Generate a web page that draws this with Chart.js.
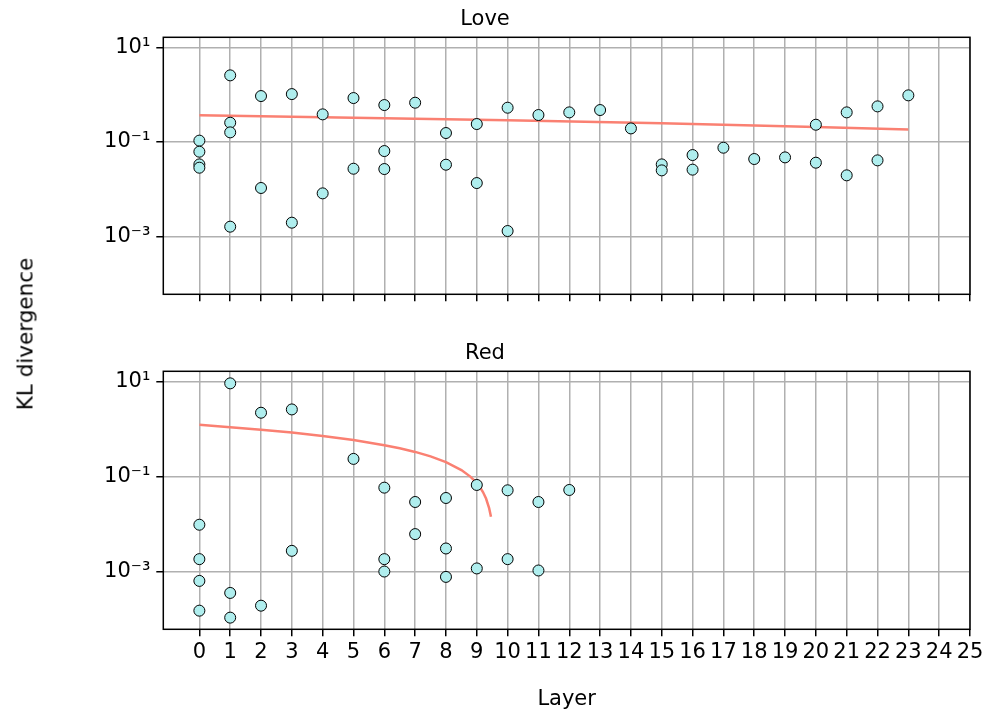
<!DOCTYPE html>
<html><head><meta charset="utf-8">
<script src="https://cdn.jsdelivr.net/npm/chart.js@4/dist/chart.umd.min.js"></script>
<style>
html,body{margin:0;padding:0;background:#fff;}
#wrap{position:relative;width:986px;height:720px;overflow:hidden;background:#fff;}
#c1{position:absolute;left:0;top:0;width:986px;height:334px;}
#c2{position:absolute;left:0;top:334px;width:986px;height:386px;}
#ylab{position:absolute;left:25px;top:334px;transform:translate(-50%,-50%) rotate(-90deg);font:21.5px "DejaVu Sans";white-space:nowrap;color:#000;}
</style></head>
<body><div id="wrap"><canvas id="c1" width="986" height="334"></canvas><canvas id="c2" width="986" height="386"></canvas><div id="ylab">KL divergence</div></div>
<script>
// ---- data ----
const xTickValues = [0,1,2,3,4,5,6,7,8,9,10,11,12,13,14,15,16,17,18,19,20,21,22,23,24,25];
const yTickValues = [1e-3, 1e-1, 1e1];
const yTickLabels = ['10\u207B\u00B3', '10\u207B\u00B9', '10\u00B9'];

const loveLayers = [0,0,0,0, 1,1,1,1, 2,2, 3,3, 4,4, 5,5, 6,6,6, 7, 8,8, 9,9, 10,10, 11, 12, 13, 14, 15,15, 16,16, 17, 18, 19, 20,20, 21,21, 22,22, 23];
const loveKL = [0.107,0.0625,0.0337,0.0287, 2.56,0.256,0.16,0.00163, 0.936,0.0107, 1.03,0.00198, 0.384,0.00824, 0.849,0.0273, 0.604,0.0645,0.0269, 0.677, 0.155,0.0332, 0.24,0.0136, 0.531,0.00132, 0.372, 0.423, 0.474, 0.194, 0.0337,0.0252, 0.0531,0.0261, 0.0759, 0.0438, 0.0474, 0.232,0.0366, 0.423,0.0198, 0.566,0.041, 0.968];
const loveFitX = [0, 5, 10, 15, 20, 23];
const loveFitY = [0.366, 0.327, 0.287, 0.248, 0.209, 0.185];

const redLayers = [0,0,0,0, 1,1,1, 2,2, 3,3, 5, 6,6,6, 7,7, 8,8,8, 9,9, 10,10, 11,11, 12];
const redKL = [0.00964,0.00182,0.000634,0.00015, 9.09,0.000354,0.000107, 2.19,0.000191, 2.57,0.00272, 0.234, 0.0581,0.00182,0.000998, 0.029,0.00612, 0.0352,0.00305,0.00077, 0.0662,0.00116, 0.0511,0.00182, 0.029,0.00105, 0.0519];
const redFitX = [0,1,2,3,4,5,6,6.5,7,7.5,8,8.5,8.8,9,9.1,9.2,9.3,9.4,9.46];
const redFitY = [1.22,1.09,0.965,0.838,0.71,0.583,0.455,0.391,0.328,0.264,0.2,0.136,0.098,0.0725,0.0598,0.047,0.0343,0.0215,0.0142];

// ---- chart construction ----
const FAM = '"DejaVu Sans", sans-serif';
const FS = 21;
const framePlugin = {
  id: 'frame',
  afterDraw(chart) {
    const {ctx, chartArea: a} = chart;
    ctx.save();
    ctx.strokeStyle = '#000';
    ctx.lineWidth = 1.5;
    ctx.strokeRect(a.left, a.top, a.right - a.left, a.bottom - a.top);
    ctx.restore();
  }
};
function pts(xs, ys) { return xs.map((x, i) => ({x: x, y: ys[i]})); }

function makeChart(id, title, xs, ys, fx, fy, showX, xAxisH) {
  return new Chart(document.getElementById(id), {
    type: 'scatter',
    data: {
      datasets: [
        {data: pts(xs, ys), backgroundColor: '#afeeee', borderColor: '#000', borderWidth: 1, pointRadius: 5.5, order: 0},
        {data: pts(fx, fy), showLine: true, pointRadius: 0, borderColor: '#fa8072', borderWidth: 2.5, fill: false, tension: 0, order: 1}
      ]
    },
    options: {
      responsive: false,
      animation: false,
      devicePixelRatio: 1,
      layout: {padding: {left: 0, right: 16, top: 0, bottom: 0}},
      plugins: {
        legend: {display: false},
        tooltip: {enabled: false},
        title: {display: true, text: title, color: '#000', font: {family: FAM, size: FS, weight: 'normal'}, padding: {top: 7, bottom: 5.1}}
      },
      scales: {
        x: {
          type: 'linear', min: -1.17, max: 25, bounds: 'data',
          afterBuildTicks: s => { s.ticks = xTickValues.map(v => ({value: v})); },
          afterFit: s => { s.height = xAxisH; s.paddingLeft = 0; s.paddingRight = 0; },
          ticks: {display: showX, autoSkip: false, maxRotation: 0, minRotation: 0, padding: 4, color: '#000', font: {family: FAM, size: FS}},
          grid: {color: '#b0b0b0', lineWidth: 1.5, tickColor: '#000', tickLength: 7, tickWidth: 1.5},
          border: {display: false},
          title: {display: showX, text: 'Layer', color: '#000', font: {family: FAM, size: FS}, padding: {top: 0, bottom: 8}}
        },
        y: {
          type: 'logarithmic', min: 6.08e-5, max: 16.3, bounds: 'data',
          afterBuildTicks: s => { s.ticks = yTickValues.map(v => ({value: v})); },
          afterFit: s => { s.width = 163.3; },
          ticks: {autoSkip: false, padding: 6, color: '#000', font: {family: FAM, size: FS},
            callback: v => { const i = yTickValues.findIndex(t => Math.abs(Math.log10(t) - Math.log10(v)) < 1e-6); return i >= 0 ? yTickLabels[i] : ''; }},
          grid: {color: '#b0b0b0', lineWidth: 1.5, tickColor: '#000', tickLength: 7, tickWidth: 1.5},
          border: {display: false}
        }
      }
    },
    plugins: [framePlugin]
  });
}

makeChart('c1', 'Love', loveLayers, loveKL, loveFitX, loveFitY, false, 334 - 294.3);
makeChart('c2', 'Red', redLayers, redKL, redFitX, redFitY, true, 386 - 295.3);
</script>
</body></html>
